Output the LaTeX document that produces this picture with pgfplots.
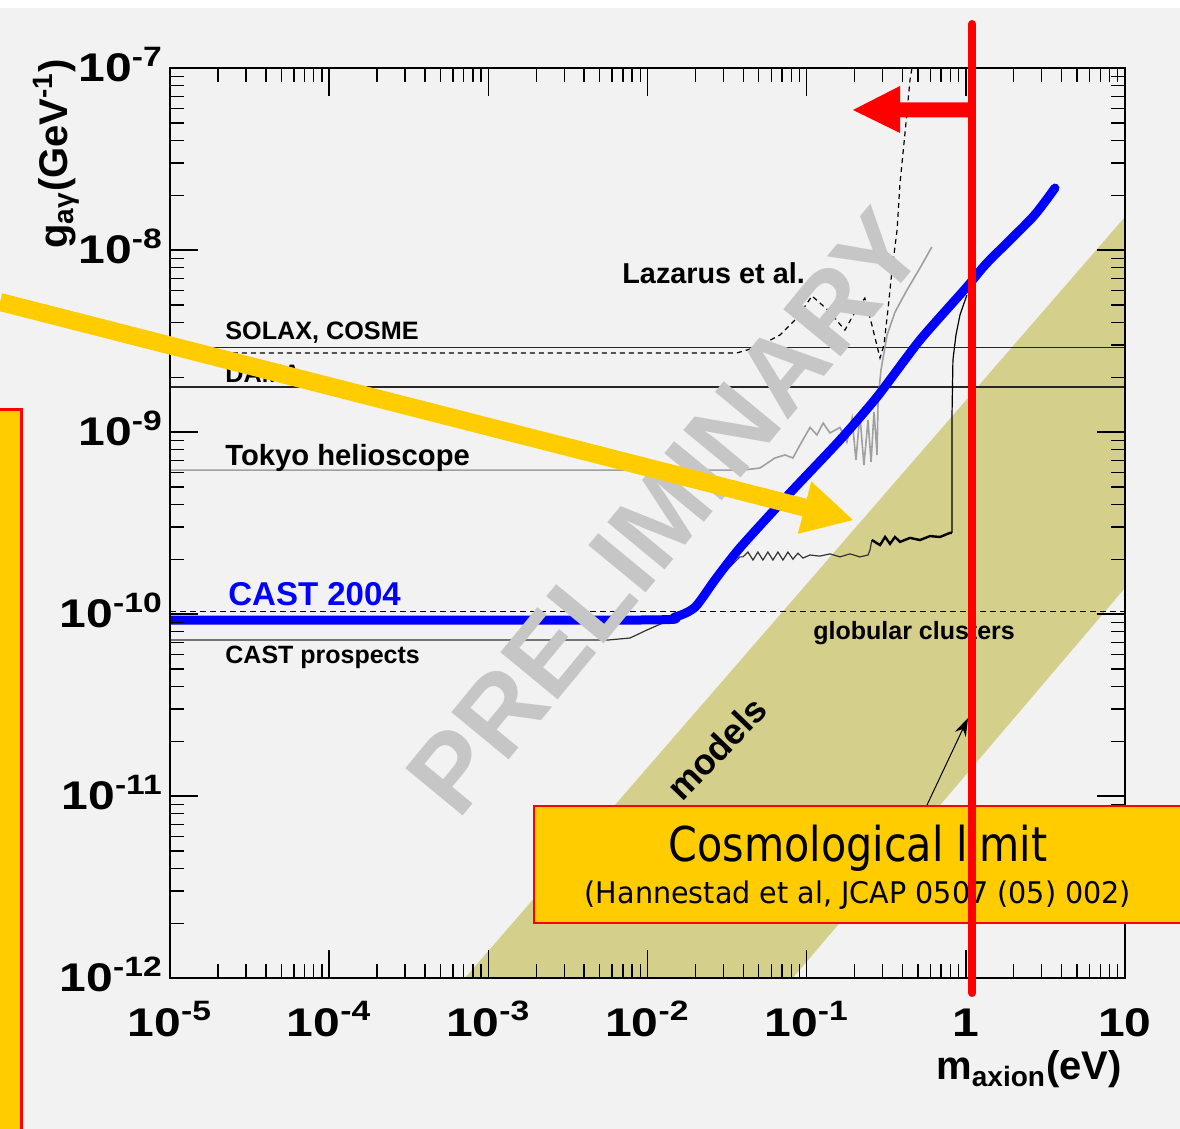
\documentclass[border=0pt]{standalone}
\usepackage{pgfplots}
\pgfplotsset{compat=1.18}
\usepackage{graphicx}
\usepackage{fontspec}
\setmainfont{Liberation Sans}
\newfontfamily\tah{DejaVu Sans}
\usetikzlibrary{arrows.meta}
\definecolor{bg}{RGB}{242,242,242}
\definecolor{band}{RGB}{212,207,138}
\definecolor{ylw}{RGB}{255,204,0}
\definecolor{wm}{RGB}{198,198,198}
\definecolor{tokyo}{RGB}{160,160,160}
\newcommand\fs[1]{\fontsize{#1}{#1}\selectfont}
\newcommand\tl[1]{\scalebox{1.2}[1]{10\textsuperscript{#1}}}
\newcommand\tn[1]{\scalebox{1.2}[1]{#1}}
\begin{document}
\begin{tikzpicture}
\useasboundingbox (0,0) rectangle (590pt,564.5pt);
\clip (0,0) rectangle (590pt,564.5pt);
\fill[bg] (0,0) rectangle (590pt,564.5pt);
\fill[white] (0,560.5pt) rectangle (590pt,564.5pt);
\begin{axis}[
  at={(85pt,75.5pt)}, anchor=south west,
  width=477.5pt, height=455pt, scale only axis,
  xmode=log, ymode=log,
  xmin=1e-5, xmax=10, ymin=1e-12, ymax=1e-7,
  axis on top,
  axis line style={line width=1pt, black},
  every tick/.style={black, line width=0.7pt},
  major tick length=14pt, minor tick length=7pt,
  xtick pos=both, ytick pos=both,
  xtick={1e-5,1e-4,1e-3,1e-2,1e-1,1,10},
  xticklabels={\tl{-5},\tl{-4},\tl{-3},\tl{-2},\tl{-1},\tn{1},\tn{10}},
  ytick={1e-12,1e-11,1e-10,1e-9,1e-8,1e-7},
  yticklabels={\tl{-12},\tl{-11},\tl{-10},\tl{-9},\tl{-8},\tl{-7}},
  minor xtick={2e-5,3e-5,4e-5,5e-5,6e-5,7e-5,8e-5,9e-5,
    2e-4,3e-4,4e-4,5e-4,6e-4,7e-4,8e-4,9e-4,
    2e-3,3e-3,4e-3,5e-3,6e-3,7e-3,8e-3,9e-3,
    2e-2,3e-2,4e-2,5e-2,6e-2,7e-2,8e-2,9e-2,
    0.2,0.3,0.4,0.5,0.6,0.7,0.8,0.9,2,3,4,5,6,7,8,9},
  minor ytick={2e-12,3e-12,4e-12,5e-12,6e-12,7e-12,8e-12,9e-12,
    2e-11,3e-11,4e-11,5e-11,6e-11,7e-11,8e-11,9e-11,
    2e-10,3e-10,4e-10,5e-10,6e-10,7e-10,8e-10,9e-10,
    2e-9,3e-9,4e-9,5e-9,6e-9,7e-9,8e-9,9e-9,
    2e-8,3e-8,4e-8,5e-8,6e-8,7e-8,8e-8,9e-8},
  ticklabel style={font=\bfseries\fs{20}},
  xticklabel style={anchor=base, yshift=-29pt},
  yticklabel style={anchor=base east, yshift=-6.8pt},
]
% axion models band
\addplot[fill=band, draw=none] coordinates {(7.13e-4,1e-12) (10,1.52e-8) (10,1.39e-10) (8.18e-2,1e-12) (7.13e-4,1e-12)};
% globular clusters
\addplot[black, line width=0.6pt, dash pattern=on 3pt off 2pt] coordinates {(1e-5,1.03e-10) (10,1.03e-10)};
% SOLAX, COSME and DAMA
\addplot[black!85, line width=0.6pt] coordinates {(1e-5,2.90e-9) (10,2.90e-9)};
\addplot[black!85, line width=0.8pt] coordinates {(1e-5,1.77e-9) (10,1.77e-9)};
% Tokyo helioscope
\addplot[tokyo, line width=0.8pt] coordinates {(1e-5,6.18e-10) (3.98e-2,6.18e-10) (5.09e-2,6.34e-10) (6.32e-2,7.20e-10) (7.31e-2,7.48e-10) (8.20e-2,7.20e-10) (9.08e-2,8.49e-10) (0.105,1.06e-9) (0.116,9.64e-10) (0.127,1.12e-9) (0.140,9.88e-10) (0.162,1.06e-9) (0.179,8.81e-10) (0.193,1.19e-9) (0.204,7.02e-10) (0.216,1.24e-9) (0.229,6.59e-10) (0.243,1.16e-9) (0.254,6.84e-10) (0.265,1.29e-9) (0.277,7.48e-10) (0.281,1.50e-9) (0.293,2.19e-9) (0.320,3.41e-9) (0.359,4.56e-9) (0.427,6.03e-9) (0.515,7.96e-9) (0.612,1.04e-8)};
% Lazarus et al.
\addplot[black, line width=0.6pt, dash pattern=on 2.5pt off 2pt] coordinates {(1e-5,2.72e-9) (3.65e-2,2.72e-9) (4.88e-2,2.93e-9) (6.79e-2,3.41e-9) (8.69e-2,4.23e-9) (0.108,5.59e-9) (0.136,4.68e-9) (0.174,3.63e-9) (0.201,4.56e-9) (0.232,5.44e-9) (0.257,3.87e-9) (0.289,2.55e-9) (0.306,3.01e-9) (0.324,4.68e-9) (0.344,7.76e-9) (0.370,1.29e-8) (0.386,2.33e-8) (0.415,4.40e-8) (0.446,8.60e-8) (0.459,1e-7)};
% CAST prospects
\addplot[black!80, line width=0.6pt] coordinates {(1e-5,7.19e-11) (5.57e-3,7.19e-11) (7.76e-3,7.38e-11) (9.93e-3,8.17e-11) (1.29e-2,9.04e-11) (1.60e-2,9.89e-11) (1.988e-2,1.12e-10) (2.655e-2,1.50e-10) (3.81e-2,2.06e-10) (3.98e-2,2.06e-10) (4.28e-2,2.19e-10) (4.60e-2,1.98e-10) (4.94e-2,2.19e-10) (5.31e-2,1.98e-10) (5.71e-2,2.19e-10) (6.14e-2,1.98e-10) (6.60e-2,2.19e-10) (7.10e-2,1.98e-10) (7.63e-2,2.19e-10) (8.20e-2,2.00e-10) (8.82e-2,2.16e-10) (9.48e-2,2.03e-10) (0.105,2.11e-10) (0.121,2.08e-10) (0.140,2.14e-10) (0.162,2.06e-10) (0.187,2.14e-10) (0.216,2.06e-10) (0.243,2.11e-10) (0.250,2.25e-10) (0.257,2.55e-10)};
\addplot[black, line width=1.2pt] coordinates {(0.257,2.55e-10) (0.289,2.39e-10) (0.311,2.65e-10) (0.334,2.43e-10) (0.359,2.65e-10) (0.386,2.49e-10) (0.446,2.62e-10) (0.515,2.55e-10) (0.596,2.68e-10) (0.688,2.65e-10) (0.794,2.79e-10) (0.818,2.79e-10)};
\addplot[black, line width=0.6pt] coordinates {(0.818,2.79e-10) (0.818,1.16e-9) (0.830,2.49e-9) (0.867,3.41e-9) (0.919,4.40e-9) (1.016,5.66e-9)};
% CAST 2004
\addplot[blue, line width=4.5pt, line join=round, line cap=round, smooth, tension=0.4] coordinates {(1e-5,9.27e-11) (8.97e-3,9.27e-11) (1.489e-2,9.64e-11) (1.988e-2,1.09e-10) (2.655e-2,1.54e-10) (3.81e-2,2.31e-10) (7.85e-2,4.62e-10) (0.162,9.04e-10) (0.277,1.56e-9) (0.515,3.20e-9) (1.016,6.27e-9) (1.358,8.49e-9) (2.64,1.52e-8) (3.63,2.19e-8)};
\end{axis}
\begin{scope}[x=0.5pt,y=-0.5pt,yshift=564.5pt]
% labels inside the plot
\begin{scope}[every node/.style={inner sep=0pt}]
\node[anchor=base west, font=\bfseries\fs{14.4}] at (622,284) {Lazarus et al.};
\node[anchor=base west, font=\bfseries\fs{12.6}] at (225,340) {SOLAX, COSME};
\node[anchor=base west, font=\bfseries\fs{12.6}] at (225,383) {DAMA};
\node[anchor=base west, font=\bfseries\fs{14.6}] at (225,466) {Tokyo helioscope};
\node[anchor=base west, font=\bfseries\fs{16.5}, text=blue] at (228,606) {CAST 2004};
\node[anchor=base west, font=\bfseries\fs{12.5}] at (225,664) {CAST prospects};
\node[anchor=base west, font=\bfseries\fs{12.5}] at (813,640) {globular clusters};
\node[anchor=base east, rotate=46, font=\bfseries\fs{18}] at (770,712) {models};
\end{scope}
% watermark
\node[rotate=50.5, text=wm, font=\bfseries\fs{54}] at (665,512) {PRELIMINARY};
% axis titles
\node[rotate=90, font=\bfseries\fs{20}] at (56,154) {g\textsubscript{aγ}(GeV\textsuperscript{-1})};
\node[anchor=base east, inner sep=0pt, font=\bfseries\fs{20}] at (1122,1080) {m\textsubscript{axion}(eV)};
% yellow arrow
\fill[ylw] (2.2,293.3) -- (806.8,498.9) -- (811.3,481.4) -- (853,520) -- (797.9,533.8) -- (802.4,516.3) -- (-2.2,310.7) -- cycle;
% left yellow box
\filldraw[fill=ylw, draw=red, line width=1.5pt] (-10,410) rectangle (21,1140);
% cosmological limit box
\filldraw[fill=ylw, draw=red, line width=1pt] (534,806) rectangle (1190,923);
\node[font=\tah\fs{24}] at (858,848) {\scalebox{0.86}[1]{Cosmological limit}};
\node[font=\tah\fs{14.9}] at (858,895) {\scalebox{0.96}[1]{(Hannestad et al, JCAP 0507 (05) 002)}};
% pointer arrow
\draw[black, line width=0.5pt, -{Stealth[length=9pt,width=6pt]}] (927,805) -- (968,718);
% red line and arrow
\draw[red, line width=4pt, line cap=round] (972,24) -- (972,993);
\fill[red] (970,102.5) -- (900,102.5) -- (900,86) -- (853,110) -- (900,133) -- (900,117.5) -- (970,117.5) -- cycle;
\end{scope}
\end{tikzpicture}
\end{document}
